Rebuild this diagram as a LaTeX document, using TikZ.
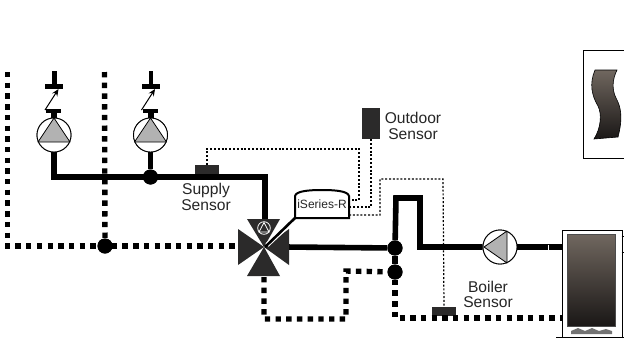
\documentclass[tikz,border=0pt]{standalone}
\usepackage{fontspec}
\usetikzlibrary{arrows.meta}
\setmainfont{Liberation Sans}
\definecolor{inkdark}{HTML}{2B2A2A}
\definecolor{gradtop}{HTML}{70675F}
\definecolor{gradbot}{HTML}{1A1716}
\tikzset{
  pipe/.style={line width=5.6pt,draw=black,line join=miter},
  ret/.style={line width=5.4pt,draw=black,dash pattern=on 5.4pt off 5.3pt},
  wire/.style={line width=1.2pt,draw=black,dash pattern=on 2pt off 1.8pt},
  junc/.style={circle,fill=black,inner sep=0pt,minimum size=15pt},
  pumpc/.style={circle,draw=black,fill=white,line width=.9pt,inner sep=0pt,minimum size=34pt},
  tri/.style={fill=black!30,draw=black,line width=.8pt,line join=round},
  sens/.style={rectangle,fill=inkdark,inner sep=0pt},
  lab/.style={align=center,font=\fontsize{15.6}{15.8}\selectfont,text=black!85,inner sep=0pt},
  valve/.style={fill=inkdark,draw=none},
  anch/.style={inner sep=0pt,minimum size=0pt}
}
\begin{document}
\begin{tikzpicture}[x=1pt,y=-1pt]
\useasboundingbox (0,0) rectangle (624,341);
\fill[white] (0,0) rectangle (624,341);
% named points
\coordinate (d1t) at (7.5,72); \coordinate (d1b) at (7.5,246);
\coordinate (d2t) at (104.5,72);
\coordinate (v) at (264,247);
\node[junc] (j1) at (150.5,177) {};
\node[junc] (j2) at (105,246) {};
\node[junc] (j3) at (395,248) {};
\node[junc] (j4) at (395,272) {};
\node[pumpc] (p1) at (54,135) {};
\node[pumpc] (p2) at (150.5,135) {};
\node[pumpc] (p3) at (500,247) {};
\node[sens,minimum width=24pt,minimum height=9pt] (ss) at (207,169.5) {};
\node[sens,minimum width=18pt,minimum height=31pt] (os) at (371,123.5) {};
\node[sens,minimum width=24pt,minimum height=9pt] (bs) at (444,311.5) {};
% return (dotted) piping
\draw[ret] (d1t) -- (d1b) -- (238,246);
\draw[ret] (d2t) -- (j2);
\draw[ret] (264,277) -- (264,319) -- (346,319) -- (346,271) -- (j4);
\draw[ret] (j4) -- (395,318) -- (562,318);
% supply piping
\draw[pipe] (p1) -- (54,177) -- (265,177) -- (265,222);
\draw[pipe] (p2) -- (j1);
\draw[pipe] (285,247) -- (j3);
\draw[pipe] (j3) -- (j4);
\draw[pipe] (j3) -- (396,198) -- (420,198) -- (420,247) -- (p3);
\draw[pipe] (p3) -- (562,247);
\draw[white,line width=.4pt] (548,244.5) -- (548,249.5);
\node[junc] at (j1) {}; \node[junc] at (j2) {}; \node[junc] at (j3) {}; \node[junc] at (j4) {};
% pumps
\foreach \p/\x in {p1/54,p2/150.5}{
  \node[pumpc] at (\p) {};
  \draw[tri] (\x,118) -- (\x+16,142) -- (\x-16,142) -- cycle;
  \fill[black] (\x-1.7,71) rectangle (\x+2.5,86);
  \fill[black] (\x-9,84) rectangle (\x+9,88.5);
  \fill[black] (\x-8,108.5) rectangle (\x+7,112.5);
  \fill[black] (\x-3,112) rectangle (\x+3,118);
  \draw[line width=1pt,-{Stealth[length=7pt,width=6pt]}] (\x-9,110) -- (\x+4.5,89);
}
\node[pumpc] at (p3) {};
\draw[tri] (484,247) -- (507,231) -- (507,263) -- cycle;
% wiring
\draw[wire] (ss.north) -- (207,149) -- (359,149) -- (359,200) -- (350,200);
\draw[wire] (os.south) -- (371,207) -- (350,207);
\draw[wire] (349,215) -- (380,215) -- (380,179) -- (443,179) -- (bs.north);
% valve
\fill[valve] (v) -- (247,219) -- (280,219) -- cycle;
\fill[valve] (v) -- (247,276) -- (280,276) -- cycle;
\fill[valve] (v) -- (238,229) -- (238,265) -- cycle;
\fill[valve] (v) -- (289,229) -- (289,265) -- cycle;
\draw[white,line width=.8pt] (264,228) circle (6.3pt);
\draw[white,line width=.8pt] (264,222.5) -- (269,232) -- (259,232) -- cycle;
% control
\draw[white,line width=4.6pt] (296,218) -- (267,245);
\draw[black,line width=2.6pt] (295,218) -- (265,247);
\draw[black,fill=white,line width=2pt] (295,218) -- (349,218) -- (349,196) .. controls (348,191) and (335,190) .. (322,190) .. controls (309,190) and (296,191) .. (295,196) -- cycle;
\node[anch,font=\fontsize{12}{12}\selectfont,text=black!85] (ctl) at (322,204.5) {iSeries-R};
% labels
\node[lab] (l1) at (206,197) {Supply\\Sensor};
\node[lab] (l2) at (413,126) {Outdoor\\Sensor};
\node[lab] (l3) at (488,294.5) {Boiler\\Sensor};
% heat emitter
\draw[black,line width=1pt] (624,50.5) -- (583.5,50.5) -- (583.5,158.5) -- (624,158.5);
\shadedraw[top color=gradtop,bottom color=gradbot,draw=black,line width=.6pt]
  (595,70) -- (617,70) .. controls (612,80) and (612,90) .. (616,98) .. controls (621,107) and (623,118) .. (618,137)
  -- (594,139) .. controls (601,128) and (602,114) .. (598,106) .. controls (592,96) and (589,84) .. (595,70) -- cycle;
% boiler
\draw[black,line width=1pt] (622,338) -- (622,230.5) -- (562.5,230.5) -- (562.5,337);
\draw[black,line width=1pt] (556,337.5) -- (624,337.5);
\draw[black,line width=.8pt] (621.5,236) -- (624,236);
\draw[black,line width=.8pt] (621.5,252) -- (624,252);
\shadedraw[top color=gradtop,bottom color=gradbot,draw=black!70,line width=1pt]
  (567.5,234.5) rectangle (615,326);
\fill[black!55] (571,334) -- (571,331) -- (578,328) -- (585,331) -- (592,328) -- (599,331) -- (606,329) -- (612,331) -- (612,334) -- cycle;
\end{tikzpicture}
\end{document}
